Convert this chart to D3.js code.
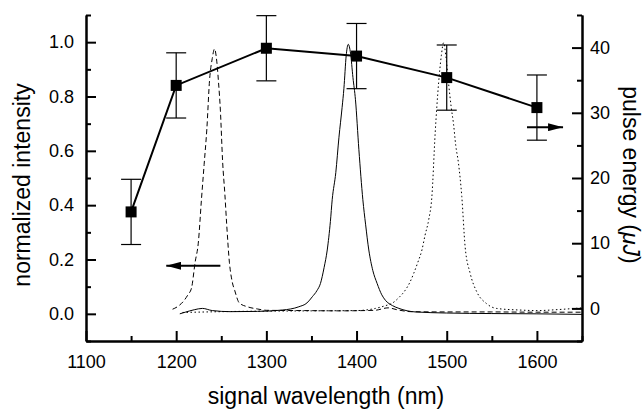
<!DOCTYPE html>
<html>
<head>
<meta charset="utf-8">
<script src="https://cdn.jsdelivr.net/npm/d3@7"></script>
<style>
  body { margin: 0; background: #fff; }
  text { font-family: "Liberation Sans", Arial, sans-serif; fill: #000; }
</style>
</head>
<body>
<div id="container"></div>
<script>
const width = 644,
  height = 409,
  margin = { top: 15, bottom: 68, left: 86, right: 60 };

/** -------------- DATA -------------- */

// pulse energy vs signal wavelength (right axis)
const energyWavelength = [1150, 1200, 1300, 1400, 1500, 1600];
const energyValue = [14.8, 34.2, 39.9, 38.7, 35.4, 30.8];
const energyError = [5, 5, 5, 5, 5, 5];

// normalized spectra (left axis)
const dashedWl = [1196, 1203, 1209, 1213, 1217, 1221, 1224.5, 1228, 1231, 1234, 1237, 1240, 1242.5,
  1245, 1247, 1249, 1251.5, 1254, 1256, 1259, 1262, 1265, 1270, 1279, 1290, 1300, 1340, 1380,
  1420, 1435, 1445, 1460, 1500, 1550, 1600, 1650];
const dashedVal = [0.017, 0.03, 0.05, 0.07, 0.095, 0.19, 0.26, 0.42, 0.55, 0.68, 0.86, 0.94, 0.975,
  0.93, 0.85, 0.75, 0.56, 0.44, 0.33, 0.19, 0.12, 0.085, 0.04, 0.026, 0.018, 0.013, 0.012, 0.011,
  0.013, 0.022, 0.015, 0.008, 0.007, 0.007, 0.006, 0.006];

const solidWl = [1204, 1210, 1220, 1229, 1240, 1260, 1290, 1318, 1336, 1345, 1351, 1356, 1360, 1364,
  1367.5, 1371, 1373, 1377, 1380.5, 1384, 1386, 1388.5, 1390.8, 1393.3, 1396, 1398.8, 1402.6, 1407,
  1410, 1413.6, 1418, 1422.8, 1428, 1432, 1440, 1447, 1465, 1500, 1550, 1600, 1650];
const solidVal = [0.0, 0.006, 0.015, 0.02, 0.012, 0.008, 0.009, 0.014, 0.026, 0.04, 0.063, 0.085, 0.112, 0.17,
  0.235, 0.34, 0.42, 0.52, 0.65, 0.76, 0.83, 0.95, 0.992, 0.96, 0.87, 0.788, 0.604, 0.42,
  0.33, 0.235, 0.16, 0.112, 0.07, 0.05, 0.03, 0.02, 0.007, 0.003, 0.001, 0.0, -0.002];

const dottedWl = [1207, 1250, 1300, 1350, 1400, 1421, 1432, 1439, 1447, 1454, 1459, 1463.4, 1468, 1472.5,
  1476, 1480, 1483.5, 1487.2, 1491, 1494, 1496.5, 1499, 1502, 1505, 1507.5, 1510, 1513, 1516.7,
  1520.4, 1526, 1533.3, 1544, 1555, 1581, 1600, 1625, 1650];
const dottedVal = [0.005, 0.008, 0.01, 0.011, 0.012, 0.02, 0.03, 0.038, 0.06, 0.087, 0.115, 0.149, 0.19, 0.235,
  0.29, 0.346, 0.43, 0.666, 0.85, 0.95, 0.998, 0.95, 0.85, 0.76, 0.7, 0.62, 0.555, 0.432,
  0.247, 0.149, 0.081, 0.038, 0.02, 0.014, 0.012, 0.016, 0.022];

// tick values
const xMajor = [1100, 1200, 1300, 1400, 1500, 1600];
const xMinor = [1150, 1250, 1350, 1450, 1550, 1650];
const yMajor = [0, 0.2, 0.4, 0.6, 0.8, 1.0];
const yMinor = [-0.1, 0.1, 0.3, 0.5, 0.7, 0.9, 1.1];
const eMajor = [0, 10, 20, 30, 40];
const eMinor = [-5, 5, 15, 25, 35, 45];

/** -------------- SCALES -------------- */

const x = d3.scaleLinear([1100, 1650], [margin.left, width - margin.right - 2]);
const y = d3.scaleLinear([-0.1, 1.1], [height - margin.bottom, margin.top]);
const yE = d3.scaleLinear([-5, 45], [height - margin.bottom, margin.top]);

/** -------------- APPEND TO DOM -------------- */

const svg = d3.select("#container")
  .append("svg")
  .attr("width", width)
  .attr("height", height);

// spectra
const spectrum = d3.line()
  .x(d => x(d[0]))
  .y(d => y(d[1]))
  .curve(d3.curveMonotoneX);

const spectra = [
  { wl: dashedWl, val: dashedVal, dash: "5,3" },
  { wl: solidWl, val: solidVal, dash: null },
  { wl: dottedWl, val: dottedVal, dash: "1.5,2.5" }
];

svg.append("g")
  .selectAll("path")
  .data(spectra)
  .join("path")
    .attr("fill", "none")
    .attr("stroke", "#000")
    .attr("stroke-width", 1)
    .attr("stroke-dasharray", d => d.dash)
    .attr("d", d => spectrum(d.wl.map((w, i) => [w, d.val[i]])));

// pulse energy with error bars
const energy = energyWavelength.map((w, i) => ({ w, v: energyValue[i], e: energyError[i] }));

const bars = svg.append("g")
  .attr("stroke", "#000")
  .attr("stroke-width", 1.2);

bars.selectAll(".stem")
  .data(energy)
  .join("line")
    .attr("x1", d => x(d.w))
    .attr("x2", d => x(d.w))
    .attr("y1", d => yE(d.v - d.e))
    .attr("y2", d => yE(d.v + d.e));

bars.selectAll(".cap")
  .data(energy.flatMap(d => [d.v - d.e, d.v + d.e].map(c => ({ w: d.w, c }))))
  .join("line")
    .attr("x1", d => x(d.w) - 10)
    .attr("x2", d => x(d.w) + 10)
    .attr("y1", d => yE(d.c))
    .attr("y2", d => yE(d.c));

svg.append("path")
  .datum(energy)
  .attr("fill", "none")
  .attr("stroke", "#000")
  .attr("stroke-width", 2)
  .attr("d", d3.line().x(d => x(d.w)).y(d => yE(d.v)));

svg.append("g")
  .selectAll("rect")
  .data(energy)
  .join("rect")
    .attr("x", d => x(d.w) - 5.5)
    .attr("y", d => yE(d.v) - 5.5)
    .attr("width", 11)
    .attr("height", 11)
    .attr("fill", "#000");

// arrows showing which axis each data set belongs to
svg.append("defs")
  .append("marker")
    .attr("id", "head")
    .attr("viewBox", "0 0 15 8")
    .attr("refX", 15)
    .attr("refY", 4)
    .attr("markerWidth", 15)
    .attr("markerHeight", 8)
    .attr("markerUnits", "userSpaceOnUse")
    .attr("orient", "auto")
  .append("path")
    .attr("d", "M0,0L15,4L0,8Z")
    .attr("fill", "#000");

svg.append("line")
  .attr("x1", x(1249)).attr("x2", x(1189))
  .attr("y1", y(0.177)).attr("y2", y(0.177))
  .attr("stroke", "#000").attr("stroke-width", 2)
  .attr("marker-end", "url(#head)");

svg.append("line")
  .attr("x1", x(1589)).attr("x2", x(1629))
  .attr("y1", yE(27.8)).attr("y2", yE(27.8))
  .attr("stroke", "#000").attr("stroke-width", 2)
  .attr("marker-end", "url(#head)");

/** -------------- AXES -------------- */

const bottom = height - margin.bottom;
const right = x(1650);

const styleAxis = g => {
  g.select(".domain").attr("stroke-width", 2);
  g.selectAll(".tick line").attr("stroke-width", 2);
  g.selectAll(".tick text").style("font-size", "18px");
};

svg.append("g")
  .attr("transform", `translate(0,${bottom})`)
  .call(d3.axisBottom(x).tickValues(xMinor).tickSizeInner(-5).tickSizeOuter(0).tickFormat(""))
  .call(styleAxis);

svg.append("g")
  .attr("transform", `translate(0,${bottom})`)
  .call(d3.axisBottom(x).tickValues(xMajor).tickSizeInner(-10).tickSizeOuter(0).tickPadding(14).tickFormat(d3.format("d")))
  .call(styleAxis);

svg.append("g")
  .attr("transform", `translate(${margin.left},0)`)
  .call(d3.axisLeft(y).tickValues(yMinor).tickSizeInner(-5).tickSizeOuter(0).tickFormat(""))
  .call(styleAxis);

svg.append("g")
  .attr("transform", `translate(${margin.left},0)`)
  .call(d3.axisLeft(y).tickValues(yMajor).tickSizeInner(-10).tickSizeOuter(0).tickPadding(12).tickFormat(d3.format(".1f")))
  .call(styleAxis);

svg.append("g")
  .attr("transform", `translate(${right},0)`)
  .call(d3.axisRight(yE).tickValues(eMinor).tickSizeInner(-5).tickSizeOuter(0).tickFormat(""))
  .call(styleAxis);

svg.append("g")
  .attr("transform", `translate(${right},0)`)
  .call(d3.axisRight(yE).tickValues(eMajor).tickSizeInner(-10).tickSizeOuter(0).tickPadding(8).tickFormat(d3.format("d")))
  .call(styleAxis);

// axis titles
svg.append("text")
  .attr("x", (margin.left + right) / 2 - 8)
  .attr("y", 404)
  .attr("text-anchor", "middle")
  .style("font-size", "23px")
  .text("signal wavelength (nm)");

svg.append("text")
  .attr("transform", `translate(30,${185}) rotate(-90)`)
  .attr("text-anchor", "middle")
  .style("font-size", "23px")
  .text("normalized intensity");

const eTitle = svg.append("text")
  .attr("transform", `translate(623,${175}) rotate(90)`)
  .attr("text-anchor", "middle")
  .style("font-size", "23px");
eTitle.append("tspan").text("pulse energy (");
eTitle.append("tspan").style("font-style", "italic").text("μJ");
eTitle.append("tspan").text(")");
</script>
</body>
</html>
